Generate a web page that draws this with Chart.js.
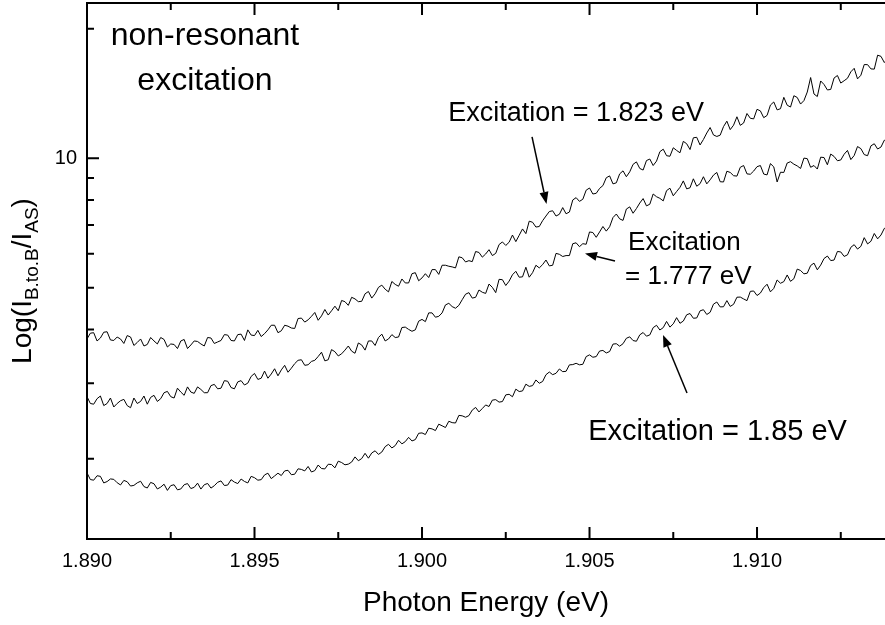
<!DOCTYPE html>
<html>
<head>
<meta charset="utf-8">
<script src="https://cdn.jsdelivr.net/npm/chart.js@4.4.1/dist/chart.umd.min.js"></script>
<style>
  html, body { margin: 0; padding: 0; background: #fff; overflow: hidden; }
  #ratioChart { display: block; }
</style>
</head>
<body>
<canvas id="ratioChart" width="885" height="625"></canvas>
<script>
// photon energy (eV) of every sample, shared by the three spectra
const energies = [
    1.8900, 1.8901, 1.8902, 1.8903, 1.8904, 1.8905, 1.8906, 1.8907, 1.8908, 1.8909, 1.8910, 1.8911, 1.8912, 1.8913, 1.8914, 1.8915, 1.8916, 1.8917, 1.8918, 1.8919,
    1.8920, 1.8921, 1.8922, 1.8923, 1.8924, 1.8925, 1.8926, 1.8927, 1.8928, 1.8929, 1.8930, 1.8931, 1.8932, 1.8933, 1.8934, 1.8935, 1.8936, 1.8937, 1.8938, 1.8939,
    1.8940, 1.8941, 1.8942, 1.8943, 1.8944, 1.8945, 1.8946, 1.8947, 1.8948, 1.8949, 1.8950, 1.8951, 1.8952, 1.8953, 1.8954, 1.8955, 1.8956, 1.8957, 1.8958, 1.8959,
    1.8960, 1.8961, 1.8962, 1.8963, 1.8964, 1.8965, 1.8966, 1.8967, 1.8968, 1.8969, 1.8970, 1.8971, 1.8972, 1.8973, 1.8974, 1.8975, 1.8976, 1.8977, 1.8978, 1.8979,
    1.8980, 1.8981, 1.8982, 1.8983, 1.8984, 1.8985, 1.8986, 1.8987, 1.8988, 1.8989, 1.8990, 1.8991, 1.8992, 1.8993, 1.8994, 1.8995, 1.8996, 1.8997, 1.8998, 1.8999,
    1.9000, 1.9001, 1.9002, 1.9003, 1.9004, 1.9005, 1.9006, 1.9007, 1.9008, 1.9009, 1.9010, 1.9011, 1.9012, 1.9013, 1.9014, 1.9015, 1.9016, 1.9017, 1.9018, 1.9019,
    1.9020, 1.9021, 1.9022, 1.9023, 1.9024, 1.9025, 1.9026, 1.9027, 1.9028, 1.9029, 1.9030, 1.9031, 1.9032, 1.9033, 1.9034, 1.9035, 1.9036, 1.9037, 1.9038, 1.9039,
    1.9040, 1.9041, 1.9042, 1.9043, 1.9044, 1.9045, 1.9046, 1.9047, 1.9048, 1.9049, 1.9050, 1.9051, 1.9052, 1.9053, 1.9054, 1.9055, 1.9056, 1.9057, 1.9058, 1.9059,
    1.9060, 1.9061, 1.9062, 1.9063, 1.9064, 1.9065, 1.9066, 1.9067, 1.9068, 1.9069, 1.9070, 1.9071, 1.9072, 1.9073, 1.9074, 1.9075, 1.9076, 1.9077, 1.9078, 1.9079,
    1.9080, 1.9081, 1.9082, 1.9083, 1.9084, 1.9085, 1.9086, 1.9087, 1.9088, 1.9089, 1.9090, 1.9091, 1.9092, 1.9093, 1.9094, 1.9095, 1.9096, 1.9097, 1.9098, 1.9099,
    1.9100, 1.9101, 1.9102, 1.9103, 1.9104, 1.9105, 1.9106, 1.9107, 1.9108, 1.9109, 1.9110, 1.9111, 1.9112, 1.9113, 1.9114, 1.9115, 1.9116, 1.9117, 1.9118, 1.9119,
    1.9120, 1.9121, 1.9122, 1.9123, 1.9124, 1.9125, 1.9126, 1.9127, 1.9128, 1.9129, 1.9130, 1.9131, 1.9132, 1.9133, 1.9134, 1.9135, 1.9136, 1.9137, 1.9138, 1.9139,
    1.9140
];

// I(B to B) / I(AS) for excitation at 1.823 eV
const ratio1823 = [
    3.80, 3.92, 3.93, 3.76, 3.82, 3.94, 3.95, 3.78, 3.77, 3.84, 3.80, 3.71, 3.87, 3.84, 3.67, 3.73, 3.80, 3.66, 3.69, 3.83,
    3.76, 3.70, 3.83, 3.79, 3.64, 3.70, 3.69, 3.61, 3.76, 3.79, 3.61, 3.68, 3.76, 3.75, 3.70, 3.66, 3.83, 3.82, 3.71, 3.74,
    3.77, 3.89, 3.88, 3.77, 3.76, 3.89, 3.90, 3.77, 3.99, 3.88, 3.87, 3.98, 3.85, 3.91, 3.99, 4.09, 4.09, 3.93, 3.97, 4.09,
    4.07, 4.03, 4.02, 4.24, 4.25, 4.16, 4.21, 4.29, 4.38, 4.20, 4.30, 4.45, 4.32, 4.42, 4.53, 4.42, 4.67, 4.64, 4.55, 4.75,
    4.71, 4.64, 4.65, 4.84, 4.90, 4.73, 4.84, 5.01, 5.07, 4.96, 4.89, 5.17, 5.09, 5.04, 5.24, 5.13, 5.13, 5.39, 5.42, 5.19,
    5.27, 5.39, 5.28, 5.51, 5.51, 5.37, 5.64, 5.64, 5.61, 5.59, 5.56, 5.90, 5.87, 5.74, 5.78, 5.75, 6.07, 6.04, 5.89, 5.99,
    6.13, 5.94, 6.01, 6.30, 6.39, 6.27, 6.38, 6.63, 6.40, 6.62, 6.85, 6.68, 7.14, 7.10, 6.92, 6.94, 7.16, 7.34, 7.52, 7.55,
    7.34, 7.41, 7.68, 7.43, 7.50, 8.00, 8.10, 7.94, 8.03, 8.43, 8.53, 8.26, 8.29, 8.51, 8.64, 9.01, 9.10, 8.72, 8.77, 9.20,
    9.35, 9.06, 9.30, 9.68, 9.81, 9.47, 9.39, 9.88, 9.96, 9.62, 9.85, 10.36, 10.50, 10.14, 10.11, 10.58, 10.43, 10.30, 10.95, 10.81,
    10.48, 11.16, 11.19, 10.74, 11.06, 11.45, 11.79, 11.33, 11.24, 11.32, 11.85, 12.20, 11.66, 11.94, 12.49, 11.93, 12.08, 12.71, 12.39, 12.35,
    13.00, 12.89, 12.43, 12.58, 13.30, 13.52, 12.96, 13.04, 13.86, 13.29, 13.16, 13.98, 13.85, 13.37, 13.62, 14.26, 15.41, 14.11, 13.92, 15.13,
    14.85, 14.42, 14.46, 15.37, 15.58, 14.96, 15.15, 15.35, 15.89, 16.19, 15.30, 15.60, 16.52, 16.51, 16.14, 16.12, 17.37, 17.26, 16.70, 17.04,
    17.58
];

// excitation at 1.777 eV
const ratio1777 = [
    2.79, 2.69, 2.68, 2.76, 2.80, 2.66, 2.69, 2.77, 2.64, 2.69, 2.73, 2.75, 2.66, 2.63, 2.77, 2.69, 2.72, 2.80, 2.68, 2.78,
    2.81, 2.72, 2.76, 2.85, 2.87, 2.79, 2.77, 2.92, 2.86, 2.81, 2.94, 2.86, 2.84, 2.94, 2.90, 2.85, 2.85, 2.96, 2.98, 2.91,
    2.92, 3.04, 3.03, 2.93, 2.91, 3.02, 3.04, 2.97, 3.00, 3.11, 3.16, 3.06, 3.08, 3.20, 3.08, 3.15, 3.24, 3.12, 3.22, 3.30,
    3.18, 3.25, 3.33, 3.39, 3.40, 3.30, 3.31, 3.37, 3.39, 3.46, 3.54, 3.38, 3.40, 3.59, 3.55, 3.47, 3.51, 3.58, 3.66, 3.56,
    3.52, 3.72, 3.68, 3.58, 3.76, 3.76, 3.67, 3.83, 3.90, 3.76, 3.80, 3.89, 3.83, 3.84, 4.04, 4.05, 4.00, 3.96, 3.99, 4.18,
    4.22, 4.17, 4.37, 4.37, 4.27, 4.29, 4.37, 4.56, 4.60, 4.52, 4.48, 4.55, 4.69, 4.83, 4.87, 4.73, 4.75, 4.94, 4.88, 4.85,
    5.10, 5.01, 4.87, 5.23, 5.22, 5.06, 5.18, 5.36, 5.46, 5.29, 5.30, 5.58, 5.29, 5.42, 5.64, 5.56, 5.66, 5.80, 5.62, 5.64,
    6.01, 5.98, 5.91, 5.94, 5.94, 6.33, 6.36, 6.23, 6.33, 6.31, 6.74, 6.72, 6.55, 6.74, 6.94, 6.77, 6.93, 7.28, 7.42, 7.23,
    7.17, 7.62, 7.71, 7.45, 7.64, 7.87, 8.06, 7.75, 7.82, 8.26, 8.14, 8.07, 7.96, 8.41, 8.52, 8.18, 8.37, 8.56, 8.86, 8.49,
    8.54, 8.96, 8.61, 8.73, 9.06, 8.72, 8.91, 9.14, 9.27, 8.82, 8.81, 9.33, 9.27, 9.11, 9.09, 9.53, 9.62, 9.20, 9.18, 9.34,
    9.56, 9.62, 9.19, 9.15, 9.72, 9.55, 8.81, 9.28, 9.27, 9.75, 9.82, 9.69, 9.60, 9.47, 10.01, 9.98, 9.53, 9.62, 9.44, 10.06,
    10.04, 9.66, 10.23, 10.10, 9.87, 9.91, 10.22, 10.43, 9.93, 10.15, 10.65, 10.53, 10.20, 10.14, 10.69, 10.81, 10.51, 10.62, 11.02, 10.91,
    10.67
];

// excitation at 1.85 eV
const ratio185 = [
    1.855, 1.790, 1.784, 1.827, 1.821, 1.758, 1.771, 1.796, 1.792, 1.760, 1.739, 1.782, 1.769, 1.729, 1.735, 1.759, 1.774, 1.724, 1.711, 1.763,
    1.750, 1.702, 1.719, 1.746, 1.689, 1.733, 1.741, 1.694, 1.702, 1.741, 1.752, 1.706, 1.717, 1.756, 1.701, 1.741, 1.753, 1.710, 1.732, 1.764,
    1.777, 1.734, 1.738, 1.789, 1.766, 1.752, 1.795, 1.772, 1.758, 1.821, 1.808, 1.784, 1.789, 1.835, 1.852, 1.799, 1.825, 1.852, 1.829, 1.875,
    1.881, 1.837, 1.842, 1.896, 1.890, 1.875, 1.920, 1.864, 1.878, 1.935, 1.899, 1.895, 1.943, 1.940, 1.906, 1.975, 1.961, 1.937, 1.944, 1.966,
    2.021, 1.980, 2.003, 2.060, 2.007, 2.064, 2.088, 2.048, 2.074, 2.135, 2.162, 2.120, 2.147, 2.209, 2.167, 2.193, 2.244, 2.201, 2.217, 2.293,
    2.298, 2.278, 2.356, 2.348, 2.327, 2.408, 2.387, 2.365, 2.446, 2.428, 2.423, 2.524, 2.518, 2.499, 2.521, 2.597, 2.634, 2.571, 2.619, 2.669,
    2.647, 2.739, 2.746, 2.710, 2.718, 2.817, 2.826, 2.789, 2.905, 2.868, 2.877, 2.983, 2.948, 2.960, 3.051, 2.998, 3.026, 3.138, 3.184, 3.139,
    3.162, 3.236, 3.190, 3.196, 3.308, 3.313, 3.336, 3.309, 3.318, 3.458, 3.490, 3.446, 3.458, 3.562, 3.574, 3.526, 3.553, 3.697, 3.705, 3.656,
    3.705, 3.814, 3.844, 3.768, 3.754, 3.885, 3.934, 3.857, 3.884, 4.038, 4.089, 3.987, 4.038, 4.175, 4.049, 4.121, 4.260, 4.133, 4.183, 4.326,
    4.355, 4.246, 4.253, 4.418, 4.445, 4.333, 4.383, 4.579, 4.632, 4.512, 4.516, 4.667, 4.524, 4.575, 4.752, 4.756, 4.709, 4.666, 4.904, 4.914,
    4.796, 4.859, 5.003, 5.095, 4.891, 4.982, 5.212, 5.121, 5.166, 5.354, 5.174, 5.248, 5.525, 5.484, 5.386, 5.405, 5.631, 5.704, 5.504, 5.644,
    5.846, 5.925, 5.783, 5.799, 6.072, 6.056, 5.913, 5.962, 6.208, 6.297, 6.150, 6.241, 6.538, 6.322, 6.413, 6.685, 6.496, 6.630, 6.871, 6.897,
    6.776
];

const xTickValues = [1.890, 1.8925, 1.895, 1.8975, 1.900, 1.9025, 1.905, 1.9075, 1.910, 1.9125];
const xTickLabels = ['1.890', '', '1.895', '', '1.900', '', '1.905', '', '1.910', ''];
const yTickValues = [2, 3, 4, 5, 6, 7, 8, 9, 10, 20];
const yTickLabels = ['', '', '', '', '', '', '', '', '10', ''];

const FONT = '"Liberation Sans", Arial, Helvetica, sans-serif';

// text boxes and arrows, placed in data units
const notes = [
    { text: 'non-resonant', x: 1.89352, y: 18.34, size: 32, align: 'center' },
    { text: 'excitation', x: 1.89352, y: 14.41, size: 32, align: 'center' },
    { text: 'Excitation = 1.823 eV', x: 1.90078, y: 12.21, size: 27, align: 'left' },
    { text: 'Excitation', x: 1.90615, y: 6.12, size: 26, align: 'left' },
    { text: '= 1.777 eV', x: 1.90606, y: 5.114, size: 26, align: 'left' },
    { text: 'Excitation = 1.85 eV', x: 1.90496, y: 2.213, size: 29, align: 'left' }
];
const arrows = [
    { from: [1.903284, 11.21], to: [1.903716, 7.83] },
    { from: [1.905761, 5.77], to: [1.904866, 6.005] },
    { from: [1.907910, 2.846], to: [1.907194, 3.883] }
];

function toPoints(values) {
    return values.map((v, i) => ({ x: energies[i], y: v }));
}

function lineSet(label, values) {
    return {
        label: label,
        data: toPoints(values),
        borderColor: '#000',
        borderWidth: 1,
        pointRadius: 0,
        tension: 0,
        fill: false
    };
}

// frame top, inward ticks, the y title with subscripts, notes and arrows
const decorations = {
    id: 'decorations',
    afterDraw(chart) {
        const ctx = chart.ctx;
        const area = chart.chartArea;
        const xs = chart.scales.x;
        const ys = chart.scales.y;

        ctx.save();
        ctx.strokeStyle = '#000';
        ctx.lineWidth = 2;
        ctx.beginPath();
        ctx.moveTo(area.left - 1, area.top);
        ctx.lineTo(area.right + 2, area.top);
        ctx.stroke();

        ctx.beginPath();
        xs.ticks.forEach((t, i) => {
            const px = xs.getPixelForValue(t.value);
            const len = xTickLabels[i] ? 12 : 7;
            ctx.moveTo(px, area.bottom);
            ctx.lineTo(px, area.bottom - len);
            ctx.moveTo(px, area.top);
            ctx.lineTo(px, area.top + len);
        });
        ys.ticks.forEach((t, i) => {
            const py = ys.getPixelForValue(t.value);
            const len = yTickLabels[i] ? 12 : 7;
            ctx.moveTo(area.left, py);
            ctx.lineTo(area.left + len, py);
        });
        ctx.stroke();

        // Log(I B.to.B / I AS)
        const pieces = [
            { t: 'Log(I', sub: false },
            { t: 'B.to.B', sub: true },
            { t: '/I', sub: false },
            { t: 'AS', sub: true },
            { t: ')', sub: false }
        ];
        const mainFont = '28px ' + FONT;
        const subFont = '19px ' + FONT;
        let total = 0;
        pieces.forEach(p => {
            ctx.font = p.sub ? subFont : mainFont;
            p.w = ctx.measureText(p.t).width;
            total += p.w;
        });
        ctx.translate(31, 281);
        ctx.rotate(-Math.PI / 2);
        ctx.fillStyle = '#000';
        ctx.textBaseline = 'alphabetic';
        ctx.textAlign = 'left';
        let cx = -total / 2;
        pieces.forEach(p => {
            ctx.font = p.sub ? subFont : mainFont;
            ctx.fillText(p.t, cx, p.sub ? 7 : 0);
            cx += p.w;
        });
        ctx.restore();

        ctx.save();
        ctx.fillStyle = '#000';
        ctx.textBaseline = 'alphabetic';
        notes.forEach(n => {
            ctx.font = n.size + 'px ' + FONT;
            ctx.textAlign = n.align;
            ctx.fillText(n.text, xs.getPixelForValue(n.x), ys.getPixelForValue(n.y));
        });

        ctx.strokeStyle = '#000';
        ctx.lineWidth = 1.5;
        arrows.forEach(a => {
            const x0 = xs.getPixelForValue(a.from[0]);
            const y0 = ys.getPixelForValue(a.from[1]);
            const x1 = xs.getPixelForValue(a.to[0]);
            const y1 = ys.getPixelForValue(a.to[1]);
            const ang = Math.atan2(y1 - y0, x1 - x0);
            const head = 12;
            const half = 4.5;
            const bx = x1 - head * Math.cos(ang);
            const by = y1 - head * Math.sin(ang);
            ctx.beginPath();
            ctx.moveTo(x0, y0);
            ctx.lineTo(bx, by);
            ctx.stroke();
            ctx.beginPath();
            ctx.moveTo(x1, y1);
            ctx.lineTo(bx + half * Math.sin(ang), by - half * Math.cos(ang));
            ctx.lineTo(bx - half * Math.sin(ang), by + half * Math.cos(ang));
            ctx.closePath();
            ctx.fill();
        });
        ctx.restore();
    }
};

Chart.defaults.font.family = FONT;
Chart.defaults.color = '#000';

const canvas = document.getElementById('ratioChart');
const chart = new Chart(canvas, {
    type: 'line',
    data: {
        datasets: [
            lineSet('Excitation = 1.823 eV', ratio1823),
            lineSet('Excitation = 1.777 eV', ratio1777),
            lineSet('Excitation = 1.85 eV', ratio185)
        ]
    },
    options: {
        responsive: false,
        animation: false,
        devicePixelRatio: 1,
        layout: { padding: { top: 3, right: 0, bottom: 0, left: 0 } },
        plugins: {
            legend: { display: false },
            tooltip: { enabled: false }
        },
        scales: {
            x: {
                type: 'linear',
                min: 1.890,
                max: 1.91382,
                afterBuildTicks: scale => {
                    scale.ticks = xTickValues.map(v => ({ value: v }));
                },
                afterFit: scale => {
                    scale.height = 86;
                    scale.paddingLeft = 0;
                    scale.paddingRight = 0;
                },
                grid: { display: false },
                border: { display: true, color: '#000', width: 2 },
                ticks: {
                    autoSkip: false,
                    maxRotation: 0,
                    padding: 2,
                    font: { size: 20 },
                    callback: (value, index) => xTickLabels[index]
                },
                title: {
                    display: true,
                    text: 'Photon Energy (eV)',
                    font: { size: 28 },
                    padding: { top: 0, bottom: 5 }
                }
            },
            y: {
                type: 'logarithmic',
                min: 1.302,
                max: 22.97,
                afterBuildTicks: scale => {
                    scale.ticks = yTickValues.map(v => ({ value: v }));
                },
                afterFit: scale => {
                    scale.width = 87;
                    scale.paddingTop = 0;
                    scale.paddingBottom = 0;
                },
                grid: { display: false },
                border: { display: true, color: '#000', width: 2 },
                ticks: {
                    autoSkip: false,
                    padding: 2,
                    font: { size: 20 },
                    callback: (value, index) => yTickLabels[index]
                }
            }
        }
    },
    plugins: [decorations]
});
</script>
</body>
</html>
